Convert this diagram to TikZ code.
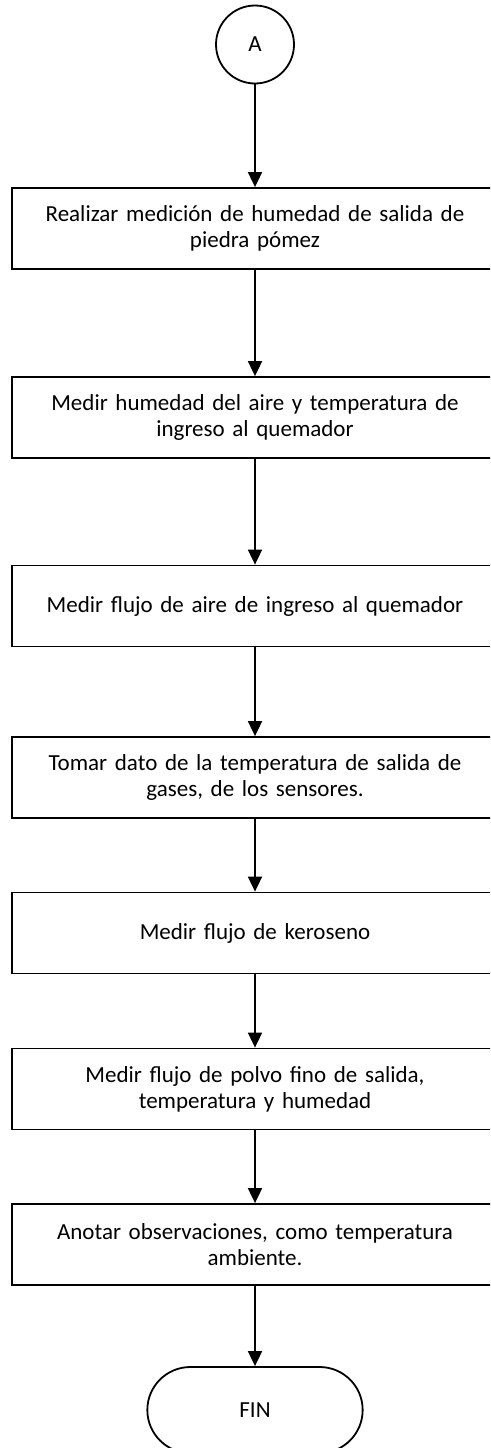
\documentclass[tikz,border=0pt]{standalone}
\usepackage{fontspec}
\setmainfont{Carlito}[WordSpace=1.8]
\usepackage{tikz}
\usetikzlibrary{arrows.meta,shapes.misc}

\begin{document}
\begin{tikzpicture}[x=1pt, y=-1pt, line width=1.8pt,
    every node/.style={font=\fontsize{23}{26}\selectfont},
    stepbox/.style={draw, rectangle, minimum width=486pt, minimum height=81pt, text width=466pt, align=center},
    conn/.style={draw, circle, minimum size=78pt, inner sep=0pt},
    term/.style={draw, rounded rectangle, minimum width=222pt, minimum height=86pt},
    flow/.style={-{Triangle[length=15pt,width=14pt]}}]
    \useasboundingbox (0,0) rectangle (490,1448);
    \clip (0,0) rectangle (490,1448);
    \node[conn] (a) at (255,44.5) {A};
    \node[stepbox] (s1) at (255,228.5) {Realizar medición de humedad de salida de\\piedra pómez};
    \node[stepbox] (s2) at (255,417.5) {Medir humedad del aire y temperatura de\\ingreso al quemador};
    \node[stepbox] (s3) at (255,606) {Medir flujo de aire de ingreso al quemador};
    \node[stepbox] (s4) at (255,777.5) {Tomar dato de la temperatura de salida de\\gases, de los sensores.};
    \node[stepbox] (s5) at (255,933) {Medir flujo de keroseno};
    \node[stepbox] (s6) at (255,1089) {Medir flujo de polvo fino de salida,\\temperatura y humedad};
    \node[stepbox] (s7) at (255,1244.5) {Anotar observaciones, como temperatura\\ambiente.};
    \node[term] (fin) at (255,1410) {FIN};
    % connectors
    \draw[flow] (a) -- (s1);
    \draw[flow] (s1) -- (s2);
    \draw[flow] (s2) -- (s3);
    \draw[flow] (s3) -- (s4);
    \draw[flow] (s4) -- (s5);
    \draw[flow] (s5) -- (s6);
    \draw[flow] (s6) -- (s7);
    \draw[flow] (s7) -- (fin);
\end{tikzpicture}
\end{document}
